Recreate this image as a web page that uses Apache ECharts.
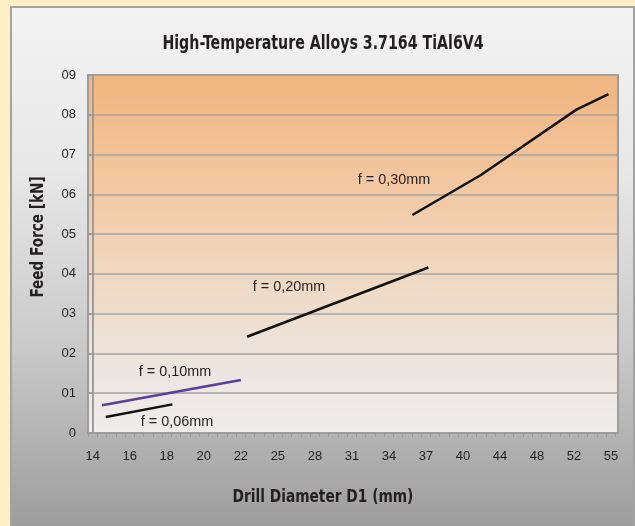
<!DOCTYPE html>
<html>
<head>
<meta charset="utf-8">
<script src="https://cdn.jsdelivr.net/npm/echarts@6/dist/echarts.min.js"></script>
<style>
  html, body { margin: 0; padding: 0; background: #fdf0c8; }
  #chart { width: 635px; height: 526px; }
</style>
</head>
<body>
<div id="chart"></div>
<script>
// ---- data ----
const xTickLabels = ['14','16','18','20','22','25','28','31','34','37','40','44','48','52','55'];
const yTickLabels = ['0','01','02','03','04','05','06','07','08','09'];

const f006Diam = [14.7, 18.3];
const f006Force = [0.40, 0.72];

const f010Diam = [14.5, 22.0];
const f010Force = [0.70, 1.33];

const f020Diam = [22.5, 37.2];
const f020Force = [2.42, 4.16];

const f030Diam = [35.9, 41.9, 52.2, 54.8];
const f030Force = [5.48, 6.48, 8.13, 8.52];

const titleText = 'High-Temperature Alloys 3.7164 TiAl6V4';
const xName = 'Drill Diameter D1 (mm)';
const yName = 'Feed Force [kN]';
const seriesNames = ['f = 0,06mm', 'f = 0,10mm', 'f = 0,20mm', 'f = 0,30mm'];

// ---- helpers ----
const xTickVals = xTickLabels.map(Number);
function diamToPos(d) {
  let i = 0;
  while (i < xTickVals.length - 2 && d > xTickVals[i + 1]) i++;
  return i + (d - xTickVals[i]) / (xTickVals[i + 1] - xTickVals[i]);
}
function pts(ds, vs) { return ds.map((d, k) => [diamToPos(d), vs[k]]); }

const NARROW = "'DejaVu Sans Condensed', 'Liberation Sans Narrow', 'Liberation Sans', sans-serif";
const REG = "'Liberation Sans', Arial, sans-serif";
const XMIN = -0.13, XMAX = 14.19;
const minorTicks = [];
for (let v = XMIN; v <= XMAX + 1e-6; v += 0.25) minorTicks.push(+v.toFixed(3));

const chart = echarts.init(document.getElementById('chart'), null, { renderer: 'canvas' });

const option = {
  animation: false,
  backgroundColor: 'transparent',
  graphic: [
    {
      type: 'rect', z: -10, silent: true,
      shape: { x: 11, y: 7, width: 623, height: 525 },
      style: {
        fill: new echarts.graphic.LinearGradient(0, 0, 0, 1, [
          { offset: 0, color: '#f3f3f3' },
          { offset: 0.3, color: '#e8e8e8' },
          { offset: 0.65, color: '#c9c9c9' },
          { offset: 1, color: '#9b9b9b' }
        ]),
        stroke: '#a3a3a3', lineWidth: 2
      }
    },
    {
      type: 'text', x: 323, y: 44, scaleX: 0.83, z: 10,
      style: { text: titleText, fill: '#231f20', font: 'bold 19px ' + NARROW, textAlign: 'center', textVerticalAlign: 'middle' }
    },
    {
      type: 'text', x: 323, y: 497, scaleX: 0.85, z: 10,
      style: { text: xName, fill: '#231f20', font: 'bold 18px ' + NARROW, textAlign: 'center', textVerticalAlign: 'middle' }
    },
    {
      type: 'text', x: 38, y: 237, rotation: Math.PI / 2, scaleX: 0.84, z: 10,
      style: { text: yName, fill: '#231f20', font: 'bold 18px ' + NARROW, textAlign: 'center', textVerticalAlign: 'middle' }
    },
    {
      type: 'text', x: 394, y: 180, z: 10,
      style: { text: seriesNames[3], fill: '#231f20', font: '14.4px ' + REG, textAlign: 'center', textVerticalAlign: 'middle' }
    },
    {
      type: 'text', x: 289, y: 287, z: 10,
      style: { text: seriesNames[2], fill: '#231f20', font: '14.4px ' + REG, textAlign: 'center', textVerticalAlign: 'middle' }
    },
    {
      type: 'text', x: 175, y: 372, z: 10,
      style: { text: seriesNames[1], fill: '#231f20', font: '14.4px ' + REG, textAlign: 'center', textVerticalAlign: 'middle' }
    },
    {
      type: 'text', x: 177, y: 422, z: 10,
      style: { text: seriesNames[0], fill: '#231f20', font: '14.4px ' + REG, textAlign: 'center', textVerticalAlign: 'middle' }
    }
  ],
  grid: {
    left: 88, top: 75, right: 17, bottom: 93,
    show: true,
    borderColor: '#9c9c9c', borderWidth: 2,
    backgroundColor: new echarts.graphic.LinearGradient(0, 0, 0, 1, [
      { offset: 0, color: '#f0b47f' },
      { offset: 0.25, color: '#f3c49a' },
      { offset: 0.5, color: '#f0d5ba' },
      { offset: 0.75, color: '#ede2d9' },
      { offset: 1, color: '#eeeded' }
    ])
  },
  xAxis: {
    type: 'value', min: XMIN, max: XMAX,
    axisLine: { show: true, lineStyle: { color: '#9c9c9c', width: 2 } },
    axisTick: { show: true, customValues: minorTicks, length: 4, lineStyle: { color: '#9c9c9c', width: 1 } },
    splitLine: { show: false },
    axisLabel: {
      customValues: xTickLabels.map((_, i) => i),
      formatter: v => xTickLabels[Math.round(v)],
      color: '#231f20', fontSize: 13, fontFamily: REG, margin: 17,
      showMinLabel: true, showMaxLabel: true
    }
  },
  yAxis: {
    type: 'value', min: 0, max: 9, interval: 1,
    axisLine: { show: true, lineStyle: { color: '#9c9c9c', width: 2 } },
    axisTick: { show: true, length: 5, lineStyle: { color: '#9c9c9c', width: 2 } },
    splitLine: { show: true, lineStyle: { color: '#a3a3a3', width: 1.5 } },
    axisLabel: {
      formatter: v => yTickLabels[Math.round(v)],
      color: '#231f20', fontSize: 13, fontFamily: REG, margin: 12
    }
  },
  series: [
    { name: seriesNames[0], type: 'line', data: pts(f006Diam, f006Force), symbol: 'none', lineStyle: { color: '#111111', width: 2.5 } },
    { name: seriesNames[1], type: 'line', data: pts(f010Diam, f010Force), symbol: 'none', lineStyle: { color: '#5a3ea0', width: 2.5 } },
    { name: seriesNames[2], type: 'line', data: pts(f020Diam, f020Force), symbol: 'none', lineStyle: { color: '#111111', width: 2.5 } },
    { name: seriesNames[3], type: 'line', data: pts(f030Diam, f030Force), symbol: 'none', lineStyle: { color: '#111111', width: 2.5 } }
  ]
};
chart.setOption(option);
</script>
</body>
</html>
